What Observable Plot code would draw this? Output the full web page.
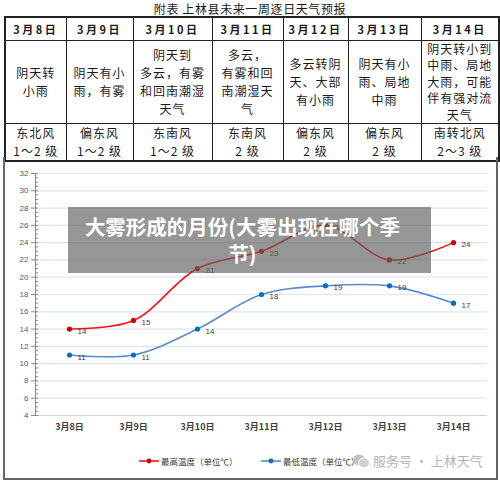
<!DOCTYPE html>
<html><head><meta charset="utf-8">
<script src="https://cdn.jsdelivr.net/npm/d3@7"></script>
<script src="https://cdn.jsdelivr.net/npm/@observablehq/plot@0.6"></script>
<style>
body{margin:0;background:#fff;}
#wrap{position:relative;width:500px;height:482px;overflow:hidden;font-family:"Noto Sans CJK SC","Noto Sans",sans-serif;color:#1a1a1a;}
#title{position:absolute;left:0;top:1px;width:500px;height:15px;line-height:15px;text-align:center;font-size:12px;letter-spacing:0.6px;}
#tbl{position:absolute;left:4px;top:16px;width:494px;border-collapse:collapse;table-layout:fixed;border:2px solid #222;}
#tbl td{border:1px solid #222;text-align:center;vertical-align:middle;padding:0;font-size:12px;letter-spacing:1px;line-height:18px;overflow:visible;}
#tbl tr.h td{height:22px;font-weight:bold;font-size:11px;letter-spacing:2.5px;}
#tbl tr.w td{height:82px;}
#tbl tr.w td.dense{line-height:16.4px;}
#tbl tr.f td{height:35px;line-height:18px;}
#frame{position:absolute;left:3px;top:157px;width:491px;height:321px;border-left:2px solid #666;border-right:2px solid #666;border-bottom:2px solid #666;}
#chart{position:absolute;left:0;top:158px;}
#legend{position:absolute;left:0;top:453px;width:500px;height:16px;font-size:8.5px;color:#333;}
.li{position:absolute;top:0;display:flex;align-items:center;height:16px;}
.li svg{margin-right:2px;}
#wm{position:absolute;left:352px;top:451px;display:flex;align-items:center;color:#b5b5b5;font-size:13px;white-space:nowrap;}
#banner{position:absolute;left:68px;top:207px;width:363px;height:66px;background:rgba(95,95,95,0.66);color:#fff;font-weight:bold;font-size:20.5px;line-height:27px;text-align:center;box-sizing:border-box;padding-top:6px;padding-right:14px;}
</style></head>
<body>
<div id="wrap">
  <div id="title"></div>
  <table id="tbl"></table>
  <div id="frame"></div>
  <div id="chart"></div>
  <div id="legend"></div>
  <div id="wm"></div>
  <div id="banner"></div>
</div>
<script>
// ---------- data ----------
const tableTitle = "附表  上林县未来一周逐日天气预报";
const dates = ["3月8日","3月9日","3月10日","3月11日","3月12日","3月13日","3月14日"];
const weather = [
  ["阴天转","小雨"],
  ["阴天有小","雨，有雾"],
  ["阴天到","多云，有雾","和回南潮湿","天气"],
  ["多云，","有雾和回","南潮湿天","气"],
  ["多云转阴","天、大部","有小雨"],
  ["阴天有小","雨、局地","中雨"],
  ["阴天转小到","中雨、局地","大雨，可能","伴有强对流","天气"]
];
const wind = [
  ["东北风","1～2 级"],["偏东风","1～2 级"],["东南风","1～2 级"],["东南风","2 级"],
  ["偏东风","2 级"],["偏东风","2 级"],["南转北风","2～3 级"]
];
const high = [14, 15, 21, 23, 26, 22, 24];
const low  = [11, 11, 14, 18, 19, 19, 17];
const yTicks = [4,6,8,10,12,14,16,18,20,22,24,26,28,30,32];
const seriesNames = ["最高温度（单位℃）","最低温度（单位℃）"];
const bannerLines = ["大雾形成的月份(大雾出现在哪个季","节)"];
const watermark = "服务号 · 上林天气";

// ---------- layout constants ----------
const colWidths = [61,67,79,71,65,73,78];
const highColor = "#ff1010", highDot = "#d00000";
const lowColor = "#5b8bc9", lowDot = "#0a6cc0";

// title
document.getElementById("title").textContent = tableTitle;

// table
const tbl = d3.select("#tbl");
tbl.append("colgroup").selectAll("col").data(colWidths).join("col").style("width", d => d + "px");
tbl.append("tr").attr("class","h").selectAll("td").data(dates).join("td").text(d => d);
tbl.append("tr").attr("class","w").selectAll("td").data(weather).join("td")
  .attr("class", d => d.length > 4 ? "dense" : null)
  .html(d => d.join("<br>"));
tbl.append("tr").attr("class","f").selectAll("td").data(wind).join("td").html(d => d.join("<br>"));

// chart
const rows = dates.map((d, i) => ({date: d, high: high[i], low: low[i]}));
const minor = d3.range(4, 32.001, 0.5);
const chart = Plot.plot({
  width: 500, height: 280,
  marginTop: 15, marginBottom: 23, marginLeft: 35, marginRight: 13,
  style: {fontFamily: "'Liberation Sans', Arial, sans-serif", background: "transparent"},
  x: {type: "point", domain: dates, padding: 0.48},
  y: {domain: [4, 32]},
  marks: [
    Plot.gridY(yTicks.slice(1), {stroke: "#dce6f2", strokeOpacity: 1, strokeWidth: 1.2}),
    Plot.ruleY([4], {stroke: "#d0d0d0"}),
    Plot.frame({anchor: "left", stroke: "#8a8a8a"}),
    Plot.axisY(minor, {tickSize: -3, tickFormat: () => "", stroke: "#8a8a8a", label: null}),
    Plot.axisY(yTicks, {tickSize: 4, tickPadding: 3, fontSize: 8, fill: "#595959", stroke: "#8a8a8a", label: null}),
    Plot.axisX({tickSize: 0, tickPadding: 8, fontSize: 9, fontWeight: "bold", fill: "#404040", label: null,
      fontFamily: "'Noto Sans CJK SC', sans-serif"}),
    Plot.line(rows, {x: "date", y: "low", curve: "catmull-rom", stroke: lowColor, strokeWidth: 1.6}),
    Plot.dot(rows, {x: "date", y: "low", r: 2.6, fill: lowDot}),
    Plot.text(rows, {x: "date", y: "low", text: "low", dx: 8, dy: 2, textAnchor: "start", fontSize: 8, fill: "#404040"}),
    Plot.line(rows, {x: "date", y: "high", curve: "catmull-rom", stroke: highColor, strokeWidth: 1.6}),
    Plot.dot(rows, {x: "date", y: "high", r: 2.6, fill: highDot}),
    Plot.text(rows, {x: "date", y: "high", text: "high", dx: 8, dy: 2, textAnchor: "start", fontSize: 8, fill: "#404040"})
  ]
});
document.getElementById("chart").appendChild(chart);

// legend
const legend = d3.select("#legend");
const legItems = [{name: seriesNames[0], line: highColor, dot: highDot, left: 139},
                  {name: seriesNames[1], line: lowColor, dot: lowDot, left: 261}];
legItems.forEach(it => {
  const li = legend.append("div").attr("class","li").style("left", it.left + "px");
  const s = li.append("svg").attr("width", 20).attr("height", 8);
  s.append("line").attr("x1",0).attr("x2",20).attr("y1",4).attr("y2",4).attr("stroke", it.line).attr("stroke-width",1.6);
  s.append("circle").attr("cx",10).attr("cy",4).attr("r",2.4).attr("fill", it.dot);
  li.append("span").text(it.name);
});

// watermark
const wm = d3.select("#wm");
const ic = wm.append("svg").attr("width", 18).attr("height", 16).style("margin-right","3px");
ic.append("ellipse").attr("cx",7).attr("cy",7).attr("rx",6).attr("ry",5.5).attr("fill","#c4c4c4");
ic.append("ellipse").attr("cx",12).attr("cy",10).attr("rx",5.5).attr("ry",4.8).attr("fill","#d2d2d2").attr("stroke","#fff").attr("stroke-width",1);
wm.append("span").text(watermark);

// banner
document.getElementById("banner").innerHTML = bannerLines.join("<br>");
</script>
</body></html>
